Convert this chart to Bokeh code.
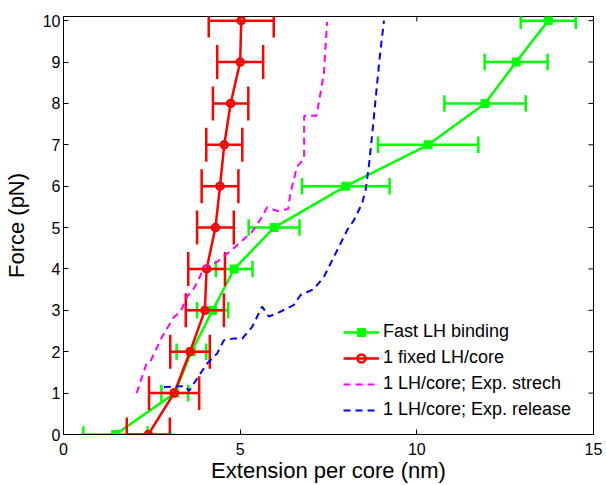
import numpy as np
from bokeh.plotting import figure
from bokeh.models import Range1d, Legend, LegendItem, FixedTicker
from bokeh.embed import file_html
from bokeh.resources import INLINE

# ---- data ----
force = [0, 1, 2, 3, 4, 5, 6, 7, 8, 9, 10]
fast_x = [1.47, 3.15, 3.62, 4.22, 4.83, 5.96, 7.99, 10.32, 11.93, 12.81, 13.72]
fast_err = [0.91, 0.38, 0.42, 0.44, 0.52, 0.72, 1.24, 1.42, 1.15, 0.89, 0.78]
fixed_x = [2.40, 3.13, 3.58, 4.00, 4.05, 4.30, 4.43, 4.55, 4.73, 5.00, 5.03]
fixed_err = [0.61, 0.71, 0.56, 0.54, 0.52, 0.52, 0.52, 0.51, 0.50, 0.65, 0.92]

stretch_x = [2.07, 2.35, 2.46, 2.79, 2.93, 3.12, 3.31, 3.50, 3.69, 3.86, 3.97, 4.35, 4.87,
             5.34, 5.62, 5.76, 6.05, 6.36, 6.42, 6.61, 6.81, 6.81, 7.16, 7.37, 7.46]
stretch_y = [1.00, 1.72, 1.77, 2.36, 2.56, 2.83, 2.97, 3.33, 3.53, 3.81, 4.05, 4.17, 4.54,
             4.90, 5.26, 5.49, 5.40, 5.45, 5.83, 6.47, 6.67, 7.70, 7.70, 8.72, 9.97]

release_x = [2.84, 3.45, 3.55, 3.88, 4.07, 4.35, 4.54, 4.82, 5.06, 5.34, 5.62, 5.81, 6.05,
             6.52, 6.71, 7.08, 7.37, 7.75, 8.03, 8.22, 8.45, 8.55, 8.64, 8.74, 8.83, 8.94, 9.07]
release_y = [1.15, 1.17, 1.05, 1.48, 1.72, 1.96, 2.28, 2.32, 2.32, 2.60, 3.09, 2.85, 2.93,
             3.13, 3.37, 3.51, 3.81, 4.46, 4.94, 5.18, 5.58, 5.91, 6.47, 7.28, 8.08, 9.04, 10.0]

x_ticks = [0, 5, 10, 15]
y_ticks = [0, 1, 2, 3, 4, 5, 6, 7, 8, 9, 10]

labels = ["Fast LH binding", "1 fixed LH/core", "1 LH/core; Exp. strech", "1 LH/core; Exp. release"]

FONT = "Liberation Sans"
GREEN = "#00ff00"
RED = "#ff0000"
MAGENTA = "#ff00ff"
BLUE = "#0000ff"

X0, X1 = 0, 15
Y0, Y1 = 0, 10.1

p = figure(width=606, height=485, output_backend="svg", toolbar_location=None,
           x_range=Range1d(X0, X1), y_range=Range1d(Y0, Y1),
           min_border_left=63, min_border_right=13, min_border_top=16, min_border_bottom=50)
p.background_fill_color = "white"
p.border_fill_color = "white"
p.outline_line_color = "black"
p.outline_line_width = 1
p.xgrid.visible = False
p.ygrid.visible = False


def style_axis(ax, ticks):
    ax.ticker = FixedTicker(ticks=ticks)
    ax.major_tick_in = 5
    ax.major_tick_out = 0
    ax.minor_tick_line_color = None
    ax.axis_line_color = "black"
    ax.major_tick_line_color = "black"
    ax.major_label_text_font = FONT
    ax.major_label_text_color = "black"
    ax.major_label_text_font_size = "16px"
    ax.axis_label_text_font = FONT
    ax.axis_label_text_font_size = "22px"
    ax.axis_label_text_font_style = "normal"
    ax.axis_label_text_color = "black"


style_axis(p.xaxis[0], x_ticks)
style_axis(p.yaxis[0], y_ticks)
p.xaxis[0].axis_label = "Extension per core (nm)"
p.yaxis[0].axis_label = "Force (pN)"
p.xaxis[0].major_label_standoff = 8
p.xaxis[0].axis_label_standoff = 0
p.yaxis[0].major_label_standoff = 3
p.yaxis[0].axis_label_standoff = 11

# inward ticks on the top and right edges (box on)
tick_len_y = 5 / 41.4
tick_len_x = 5 / 35.3
xt = np.array(x_ticks, float)
yt = np.array(y_ticks, float)
p.segment(x0=xt, y0=np.full_like(xt, Y1), x1=xt, y1=np.full_like(xt, Y1 - tick_len_y),
          line_color="black", line_width=1)
p.segment(x0=np.full_like(yt, X1), y0=yt, x1=np.full_like(yt, X1 - tick_len_x), y1=yt,
          line_color="black", line_width=1)


def errorbars(xs, errs, ys, color, cap_half):
    xs = np.array(xs, float)
    errs = np.array(errs, float)
    ys = np.array(ys, float)
    lo = xs - errs
    hi = xs + errs
    p.segment(x0=lo, y0=ys, x1=hi, y1=ys, line_color=color, line_width=2.5)
    p.segment(x0=lo, y0=ys - cap_half, x1=lo, y1=ys + cap_half, line_color=color, line_width=2.5)
    p.segment(x0=hi, y0=ys - cap_half, x1=hi, y1=ys + cap_half, line_color=color, line_width=2.5)


# Fast LH binding
errorbars(fast_x, fast_err, force, GREEN, 0.2)
g_line = p.line(fast_x, force, line_color=GREEN, line_width=2.5)
g_mark = p.scatter(fast_x, force, marker="square", size=8, fill_color=GREEN, line_color=GREEN)

# 1 fixed LH/core
errorbars(fixed_x, fixed_err, force, RED, 0.41)
r_line = p.line(fixed_x, force, line_color=RED, line_width=2.5)
r_mark = p.scatter(fixed_x, force, marker="circle", size=7, fill_alpha=0, line_color=RED, line_width=2.5)

# dashed curves
m_line = p.line(stretch_x, stretch_y, line_color=MAGENTA, line_width=2, line_dash="7 5")
b_line = p.line(release_x, release_y, line_color=BLUE, line_width=2, line_dash="7 5")

legend = Legend(items=[
    LegendItem(label=labels[0], renderers=[g_line, g_mark]),
    LegendItem(label=labels[1], renderers=[r_line, r_mark]),
    LegendItem(label=labels[2], renderers=[m_line]),
    LegendItem(label=labels[3], renderers=[b_line]),
], location=(280, 14))
legend.label_text_font = FONT
legend.label_text_font_size = "18px"
legend.label_text_color = "black"
legend.glyph_width = 36
legend.glyph_height = 20
legend.label_height = 20
legend.label_standoff = 4
legend.spacing = 5
legend.padding = 0
legend.margin = 0
legend.border_line_alpha = 0
legend.background_fill_alpha = 0
p.add_layout(legend, "center")

open("out.html", "w").write(file_html(p, INLINE))
